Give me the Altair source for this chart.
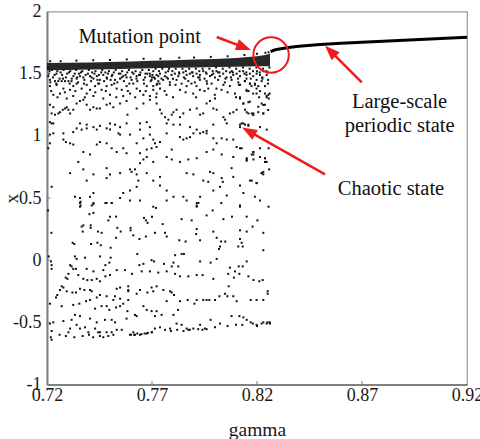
import math
import altair as alt
import pandas as pd

SERIF = "Liberation Serif"
RED = "#ee1c1c"

# ---------------- data ----------------
x_ticks = [0.72, 0.77, 0.82, 0.87, 0.92]
y_ticks = [-1, -0.5, 0, 0.5, 1, 1.5, 2]

# dense (almost solid) upper edge of the chaotic band
band_gamma = [0.7200, 0.7300, 0.7400, 0.7500, 0.7600, 0.7700, 0.7800, 0.7900, 0.8000, 0.8100, 0.8200, 0.8240, 0.8262]
band_top = [1.585, 1.588, 1.590, 1.594, 1.598, 1.603, 1.608, 1.613, 1.618, 1.627, 1.640, 1.650, 1.660]
band_bottom = [1.528, 1.530, 1.533, 1.536, 1.540, 1.543, 1.547, 1.550, 1.553, 1.556, 1.560, 1.560, 1.560]

# large-scale periodic branch
periodic_gamma = [0.8265, 0.8280, 0.8300, 0.8350, 0.8400, 0.8500, 0.8600, 0.8700, 0.8800, 0.8900, 0.9000, 0.9100, 0.9200]
periodic_x = [1.677, 1.688, 1.697, 1.710, 1.720, 1.734, 1.744, 1.752, 1.760, 1.768, 1.776, 1.784, 1.792]

# chaotic points (gamma, x)
chaos_edge = [
    (.7215, 1.600), (.7265, 1.600), (.7340, 1.605), (.7420, 1.608), (.7500, 1.610), (.7580, 1.615),
    (.7660, 1.620), (.7740, 1.620), (.7830, 1.628), (.7900, 1.630), (.7980, 1.635), (.8060, 1.640),
    (.8140, 1.650), (.8200, 1.660), (.8240, 1.668), (.8255, 1.672),
    (.7208, 1.50), (.7223, 1.53), (.7236, 1.49), (.7249, 1.52), (.7265, 1.51), (.7279, 1.53), (.7296, 1.50),
    (.7311, 1.52), (.7326, 1.48), (.7339, 1.53), (.7352, 1.50), (.7368, 1.52), (.7384, 1.49), (.7399, 1.53),
    (.7415, 1.51), (.7431, 1.52), (.7447, 1.49), (.7463, 1.53), (.7478, 1.51), (.7495, 1.52), (.7511, 1.49),
    (.7527, 1.53), (.7542, 1.50), (.7558, 1.52), (.7574, 1.49), (.7590, 1.53), (.7606, 1.51), (.7622, 1.52),
    (.7638, 1.49), (.7654, 1.53), (.7669, 1.50), (.7685, 1.53), (.7702, 1.49), (.7717, 1.54), (.7733, 1.52),
    (.7749, 1.54), (.7765, 1.51), (.7781, 1.54), (.7797, 1.52), (.7813, 1.54), (.7829, 1.51), (.7845, 1.54),
    (.7861, 1.52), (.7877, 1.54), (.7893, 1.51), (.7909, 1.54), (.7925, 1.52), (.7941, 1.54), (.7957, 1.51),
    (.7973, 1.54), (.7989, 1.52), (.8005, 1.55), (.8021, 1.51), (.8037, 1.54), (.8053, 1.52), (.8069, 1.55),
    (.8085, 1.51), (.8101, 1.54), (.8117, 1.52), (.8133, 1.55), (.8149, 1.51), (.8165, 1.54), (.8181, 1.52),
    (.8197, 1.55), (.8213, 1.51), (.8229, 1.54), (.8245, 1.52), (.8259, 1.55),
    (.7216, 1.43), (.7244, 1.42), (.7276, 1.46), (.7308, 1.42), (.7344, 1.47), (.7376, 1.42), (.7412, 1.47),
    (.7448, 1.42), (.7486, 1.46), (.7520, 1.42), (.7556, 1.47), (.7592, 1.42), (.7626, 1.46), (.7662, 1.42),
    (.7700, 1.47), (.7736, 1.42), (.7776, 1.46), (.7812, 1.41), (.7852, 1.47), (.7888, 1.42), (.7926, 1.47),
    (.7962, 1.42), (.8000, 1.47), (.8040, 1.41), (.8076, 1.47), (.8114, 1.41), (.8150, 1.46), (.8190, 1.42),
    (.8226, 1.46), (.8252, 1.42),
]

chaos_top = [
    (.7206, 1.48), (.7214, 1.45), (.7238, 1.44), (.7254, 1.44), (.7270, 1.44), (.7286, 1.44), (.7302, 1.44),
    (.7317, 1.44), (.7341, 1.46), (.7357, 1.48), (.7373, 1.47), (.7405, 1.48), (.7421, 1.46), (.7437, 1.48),
    (.7452, 1.45), (.7468, 1.49), (.7484, 1.47), (.7508, 1.48), (.7524, 1.45), (.7548, 1.46), (.7563, 1.48),
    (.7579, 1.47), (.7603, 1.45), (.7627, 1.48), (.7643, 1.49), (.7667, 1.47), (.7690, 1.48), (.7714, 1.46),
    (.7730, 1.48),
    (.7214, 1.40), (.7246, 1.41), (.7278, 1.38), (.7310, 1.37), (.7325, 1.40), (.7341, 1.42), (.7365, 1.38),
    (.7389, 1.41), (.7405, 1.37), (.7429, 1.40), (.7444, 1.42), (.7460, 1.37), (.7484, 1.40), (.7508, 1.41),
    (.7532, 1.38), (.7556, 1.37), (.7579, 1.40), (.7611, 1.42), (.7627, 1.38), (.7643, 1.36), (.7675, 1.40),
    (.7706, 1.37), (.7722, 1.41),
    (.7230, 1.33), (.7262, 1.34), (.7294, 1.30), (.7325, 1.32), (.7389, 1.34), (.7421, 1.32), (.7468, 1.30),
    (.7500, 1.33), (.7563, 1.32), (.7595, 1.34), (.7659, 1.33), (.7690, 1.32),
    (.7690, 1.50), (.7706, 1.52), (.7722, 1.49), (.7738, 1.50), (.7761, 1.48), (.7777, 1.52), (.7793, 1.49),
    (.7809, 1.50), (.7825, 1.48), (.7849, 1.51), (.7865, 1.49), (.7880, 1.50), (.7896, 1.48), (.7912, 1.50),
    (.7928, 1.49), (.7944, 1.52), (.7960, 1.50), (.7976, 1.48), (.7992, 1.50), (.8007, 1.52), (.8023, 1.48),
    (.8039, 1.50), (.8055, 1.47), (.8071, 1.51), (.8087, 1.49), (.8103, 1.50), (.8119, 1.48), (.8134, 1.52),
    (.8150, 1.49), (.8166, 1.50), (.8182, 1.48), (.8198, 1.50), (.8214, 1.49), (.8230, 1.52), (.8246, 1.49),
    (.7698, 1.45), (.7730, 1.44), (.7753, 1.45), (.7785, 1.43), (.7817, 1.45), (.7841, 1.42), (.7873, 1.44),
    (.7904, 1.43), (.7928, 1.45), (.7960, 1.44), (.7984, 1.42), (.8015, 1.45), (.8047, 1.43), (.8079, 1.45),
    (.8111, 1.43), (.8142, 1.44), (.8166, 1.42), (.8198, 1.45), (.8222, 1.44), (.8253, 1.45),
    (.7706, 1.40), (.7865, 1.40), (.8071, 1.40), (.8174, 1.40), (.8238, 1.40), (.7738, 1.38), (.7968, 1.38),
    (.7785, 1.41), (.7912, 1.40), (.8007, 1.38), (.8119, 1.41), (.8198, 1.38),
    (.7722, 1.34), (.7769, 1.33), (.7833, 1.37), (.7896, 1.34), (.7928, 1.37), (.7999, 1.33), (.8031, 1.37),
    (.8095, 1.34), (.8150, 1.37), (.8198, 1.34), (.8119, 1.30), (.8246, 1.32),
    (.8143, 1.44), (.8167, 1.42), (.8190, 1.41), (.8206, 1.40), (.8151, 1.36), (.8182, 1.34), (.8214, 1.36),
    (.8238, 1.34), (.8254, 1.33),
    (.7373, 1.29), (.7357, 1.28), (.7579, 1.28), (.7690, 1.29), (.7976, 1.28), (.8119, 1.31), (.8246, 1.31),
    (.8260, 1.34), (.8256, 1.30),
    (.7212, 1.52), (.7228, 1.47), (.7245, 1.50), (.7260, 1.46), (.7272, 1.49), (.7290, 1.47), (.7305, 1.51),
    (.7318, 1.46), (.7332, 1.50), (.7348, 1.43), (.7362, 1.51), (.7378, 1.45), (.7395, 1.50), (.7410, 1.44),
    (.7426, 1.50), (.7440, 1.45), (.7458, 1.51), (.7472, 1.44), (.7490, 1.50), (.7503, 1.45), (.7518, 1.51),
    (.7535, 1.43), (.7550, 1.50), (.7566, 1.44), (.7582, 1.51), (.7598, 1.47), (.7612, 1.50), (.7630, 1.44),
    (.7645, 1.51), (.7660, 1.45), (.7678, 1.50), (.7694, 1.44), (.7710, 1.47), (.7725, 1.42), (.7745, 1.46),
    (.7770, 1.47), (.7800, 1.46), (.7830, 1.50), (.7858, 1.46), (.7890, 1.51), (.7920, 1.47), (.7950, 1.46),
    (.7985, 1.49), (.8015, 1.51), (.8050, 1.46), (.8080, 1.52), (.8110, 1.46), (.8140, 1.50), (.8170, 1.46),
    (.8200, 1.52), (.8225, 1.47), (.8250, 1.51),
    (.7220, 1.36), (.7250, 1.31), (.7285, 1.35), (.7335, 1.36), (.7380, 1.31), (.7430, 1.35), (.7480, 1.36),
    (.7530, 1.31), (.7585, 1.36), (.7620, 1.31), (.7670, 1.36), (.7720, 1.31), (.7760, 1.36), (.7800, 1.31),
    (.7860, 1.35), (.7910, 1.31), (.7950, 1.36), (.8000, 1.30), (.8060, 1.35), (.8100, 1.31), (.8160, 1.36),
    (.8210, 1.31),
]

chaos_mid = [
    (.7214, 1.25), (.7230, 1.23), (.7222, 1.18), (.7238, 1.17), (.7254, 1.18), (.7262, 1.19), (.7275, 1.21),
    (.7286, 1.22), (.7294, 1.23), (.7302, 1.21), (.7310, 1.18), (.7325, 1.21), (.7341, 1.26), (.7389, 1.25),
    (.7405, 1.21), (.7421, 1.23), (.7437, 1.22), (.7452, 1.22), (.7484, 1.25), (.7500, 1.26), (.7516, 1.23),
    (.7548, 1.26), (.7583, 1.17), (.7627, 1.22), (.7659, 1.26), (.7722, 1.26), (.7738, 1.21), (.7746, 1.18),
    (.7762, 1.15), (.7778, 1.13), (.7794, 1.17), (.7802, 1.19), (.7817, 1.21), (.7833, 1.15), (.7849, 1.18),
    (.7881, 1.21), (.7913, 1.22), (.7929, 1.17), (.7944, 1.18), (.7960, 1.26), (.7992, 1.22), (.8008, 1.21),
    (.8040, 1.15), (.8048, 1.13), (.8071, 1.18), (.8087, 1.19), (.8103, 1.21), (.8135, 1.26), (.8143, 1.21),
    (.8159, 1.18), (.8183, 1.18), (.8230, 1.18),
    (.7214, 1.11), (.7222, 1.10), (.7230, 1.10), (.7357, 1.10), (.7389, 1.09), (.7421, 1.07), (.7452, 1.08),
    (.7500, 1.10), (.7524, 1.09), (.7548, 1.07), (.7579, 1.10), (.7643, 1.10), (.7675, 1.11), (.7690, 1.07),
    (.7770, 1.10), (.7802, 1.09), (.7833, 1.09), (.7881, 1.07), (.7913, 1.05), (.7944, 1.03), (.7960, 1.02),
    (.7992, 1.09), (.8056, 1.10), (.8119, 1.09), (.8135, 1.10), (.8159, 1.08), (.8214, 1.07), (.8246, 1.05),
    (.8255, 0.90),
    (.7214, 1.01), (.7230, 1.02), (.7206, 0.90), (.7214, 0.94), (.7278, 1.02), (.7290, 0.95), (.7325, 1.03),
    (.7341, 1.06), (.7365, 1.05), (.7389, 1.06), (.7437, 1.05), (.7484, 1.06), (.7500, 1.05), (.7540, 1.02),
    (.7548, 1.01), (.7595, 1.01), (.7643, 1.05), (.7659, 0.98), (.7690, 1.01), (.7706, 0.97), (.7714, 0.94),
    (.7738, 0.95), (.7770, 1.02), (.7794, 0.89), (.7833, 0.99), (.7849, 0.97), (.7865, 0.98), (.7881, 0.99),
    (.7897, 1.02), (.7929, 1.02), (.7960, 1.04), (.7992, 0.98), (.8008, 0.94), (.8032, 0.98), (.8056, 0.97),
    (.8087, 0.97), (.8103, 0.91), (.8127, 0.90), (.8183, 0.87), (.8119, 1.07),
    (.7278, 0.97), (.7310, 0.94), (.7325, 0.93), (.7373, 0.87), (.7405, 0.85), (.7437, 0.93), (.7452, 0.95),
    (.7484, 0.94), (.7508, 0.90), (.7532, 0.87), (.7563, 0.90), (.7579, 0.86), (.7627, 0.94), (.7643, 0.86),
    (.7675, 0.89), (.7698, 0.90), (.7722, 0.91), (.7770, 0.83), (.7794, 0.81), (.7833, 0.79), (.7873, 0.81),
    (.7913, 0.82), (.7960, 0.87), (.7992, 0.89), (.8032, 0.85), (.8087, 0.83), (.8151, 0.82), (.8183, 0.81),
    (.8214, 0.83), (.8238, 0.82), (.8246, 0.79),
    (.7310, 0.70), (.7349, 0.79), (.7373, 0.73), (.7389, 0.64), (.7421, 0.69), (.7484, 0.74), (.7500, 0.69),
    (.7548, 0.70), (.7595, 0.73), (.7603, 0.71), (.7619, 0.73), (.7627, 0.69), (.7635, 0.64), (.7643, 0.78),
    (.7659, 0.81), (.7675, 0.83), (.7706, 0.79), (.7738, 0.67), (.7770, 0.56), (.7675, 0.70), (.7706, 0.64),
    (.7738, 0.60), (.7627, 0.59), (.7563, 0.54), (.7595, 0.56), (.7484, 0.66), (.7421, 0.54), (.7405, 0.51),
    (.7357, 0.50), (.7333, 0.51),
    (.7865, 0.70), (.7897, 0.69), (.7944, 0.64), (.7976, 0.71), (.7992, 0.70), (.8032, 0.66), (.8037, 0.63),
    (.8087, 0.67), (.8119, 0.60), (.8079, 0.74), (.8135, 0.54), (.8167, 0.64), (.8198, 0.62), (.8222, 0.70),
    (.8230, 0.71), (.8238, 0.79), (.8258, 0.73), (.8183, 0.85), (.8151, 0.81), (.7222, 0.59), (.7929, 0.51),
    (.7992, 0.56), (.8056, 0.52), (.8190, 0.51), (.8214, 0.48), (.8024, 0.59), (.7968, 0.63),
    (.8135, 1.26), (.8159, 1.27), (.8222, 1.26), (.8238, 1.25), (.8151, 1.19), (.8175, 1.18), (.8206, 1.19),
    (.8230, 1.18), (.8127, 1.10), (.8143, 1.09), (.8159, 1.09), (.8119, 0.90), (.8151, 0.80), (.8182, 0.87),
    (.8175, 0.85), (.8214, 0.90), (.8238, 0.82), (.8238, 0.79), (.8222, 0.70), (.8230, 0.69), (.8175, 0.64),
    (.8198, 0.62),
    (.8166, 1.275), (.8182, 1.167), (.8206, 1.234), (.8230, 1.248), (.8253, 1.208),
]

chaos_low = [
    (.7357, 0.46), (.7357, 0.43), (.7421, 0.46), (.7484, 0.46), (.7508, 0.46), (.7548, 0.50), (.7595, 0.48),
    (.7643, 0.48), (.7706, 0.43), (.7770, 0.48), (.7802, 0.51), (.7849, 0.51), (.7913, 0.46), (.7913, 0.43),
    (.7865, 0.48), (.8119, 0.44), (.8255, 0.43),
    (.7360, 0.47), (.7360, 0.44), (.7413, 0.44), (.7421, 0.45), (.7478, 0.46), (.7508, 0.46), (.7719, 0.42),
    (.7913, 0.44), (.7921, 0.46), (.8030, 0.46), (.8119, 0.43),
    (.7205, 0.40), (.7402, 0.37), (.7421, 0.38), (.7500, 0.35), (.7492, 0.32), (.7529, 0.35), (.7662, 0.34),
    (.7671, 0.32), (.7700, 0.35), (.7365, 0.27), (.7373, 0.28), (.7408, 0.28), (.7408, 0.26), (.7370, 0.23),
    (.7443, 0.23), (.7460, 0.22), (.7535, 0.26), (.7551, 0.23), (.7598, 0.26), (.7598, 0.24), (.7679, 0.30),
    (.7751, 0.29), (.7841, 0.33), (.7889, 0.32), (.7960, 0.36), (.7989, 0.40), (.8040, 0.33), (.8081, 0.35),
    (.8151, 0.35), (.8202, 0.32), (.8179, 0.27), (.8119, 0.24), (.8151, 0.23), (.8230, 0.22), (.7913, 0.25),
    (.7910, 0.21), (.7992, 0.23), (.7929, 0.16), (.7830, 0.16), (.7860, 0.15), (.8008, 0.18), (.8029, 0.15),
    (.8049, 0.15), (.8119, 0.17), (.8127, 0.14), (.8111, 0.11), (.8132, 0.11), (.7221, 0.22), (.7611, 0.20),
    (.7640, 0.17), (.7671, 0.19), (.7714, 0.22), (.7762, 0.22), (.7770, 0.19), (.7529, 0.18), (.7410, 0.13),
    (.7440, 0.14), (.7456, 0.12), (.7322, 0.14), (.7330, 0.13), (.7503, 0.10), (.7630, 0.05), (.7841, 0.05),
    (.7852, 0.05), (.7810, 0.04), (.8019, 0.09), (.8024, 0.11), (.8151, -0.01), (.8230, 0.08), (.8132, -0.05),
    (.8113, -0.05), (.8095, -0.09), (.8071, -0.06), (.7929, -0.01), (.7979, -0.02), (.8008, 0.01),
    (.7698, 0.00), (.7710, -0.01), (.7659, -0.03), (.7640, -0.04), (.7757, -0.03), (.7794, -0.05),
    (.7802, -0.02), (.7825, -0.05), (.7208, 0.03), (.7219, -0.01), (.7222, -0.04), (.7222, -0.07),
    (.7333, 0.03), (.7341, 0.01), (.7381, 0.02), (.7452, 0.03), (.7503, 0.02), (.7497, -0.02), (.7478, -0.04),
    (.7310, -0.04), (.7317, -0.05), (.7325, -0.07), (.7338, -0.07), (.7389, -0.07), (.7421, -0.09),
    (.7468, -0.08), (.7571, -0.08), (.7605, -0.11), (.7651, -0.09), (.7690, -0.09), (.7730, -0.10),
    (.7770, -0.09), (.7810, -0.11), (.7833, -0.13), (.7873, -0.13), (.7913, -0.12), (.7941, -0.12),
    (.7992, -0.15), (.8063, -0.11), (.8090, -0.14), (.8116, -0.11), (.8159, -0.13), (.8183, -0.16),
    (.8211, -0.17), (.8227, -0.16), (.8251, -0.25), (.8251, -0.27), (.8230, -0.32), (.8198, -0.32),
    (.8170, -0.32), (.8103, -0.33), (.8087, -0.29), (.8059, -0.29), (.8065, -0.21), (.8048, -0.27),
    (.8021, -0.29), (.8000, -0.32), (.7973, -0.32), (.7960, -0.32), (.7944, -0.32), (.7913, -0.32),
    (.7902, -0.35), (.7870, -0.32), (.7833, -0.33), (.7824, -0.40), (.7802, -0.44), (.7770, -0.33),
    (.7786, -0.25), (.7794, -0.26), (.7805, -0.28), (.7754, -0.24), (.7722, -0.21), (.7706, -0.25),
    (.7698, -0.22), (.7678, -0.26), (.7643, -0.24), (.7627, -0.27), (.7587, -0.21), (.7587, -0.24),
    (.7587, -0.25), (.7587, -0.32), (.7548, -0.22), (.7532, -0.23), (.7524, -0.29), (.7548, -0.31),
    (.7516, -0.32), (.7484, -0.29), (.7452, -0.28), (.7437, -0.30), (.7405, -0.24), (.7413, -0.25),
    (.7378, -0.24), (.7357, -0.23), (.7338, -0.26), (.7321, -0.26), (.7294, -0.25), (.7278, -0.22),
    (.7270, -0.21), (.7262, -0.24), (.7249, -0.28), (.7243, -0.30), (.7289, -0.14), (.7297, -0.15),
    (.7302, -0.11), (.7349, -0.12), (.7373, -0.15), (.7392, -0.16), (.7413, -0.16), (.7437, -0.15),
    (.7452, -0.17), (.7478, -0.13), (.7500, -0.12), (.7532, -0.08),
    (.7214, -0.35), (.7270, -0.37), (.7325, -0.36), (.7354, -0.35), (.7386, -0.33), (.7405, -0.32),
    (.7429, -0.39), (.7460, -0.37), (.7484, -0.37), (.7497, -0.40), (.7529, -0.38), (.7548, -0.37),
    (.7563, -0.35), (.7583, -0.41), (.7619, -0.44), (.7659, -0.37), (.7675, -0.40), (.7698, -0.41),
    (.7722, -0.41), (.7746, -0.44), (.7714, -0.45), (.7627, -0.45), (.7579, -0.47), (.7524, -0.50),
    (.7508, -0.48), (.7476, -0.48), (.7437, -0.50), (.7405, -0.47), (.7357, -0.45), (.7333, -0.44),
    (.7317, -0.48), (.7278, -0.49), (.7341, -0.52), (.7310, -0.55), (.7302, -0.58), (.7357, -0.55),
    (.7381, -0.54), (.7429, -0.55), (.7397, -0.58), (.7452, -0.58), (.7484, -0.58), (.7508, -0.58),
    (.7532, -0.56), (.7556, -0.56), (.7595, -0.60), (.7619, -0.60), (.7643, -0.60), (.7675, -0.59),
    (.7698, -0.58), (.7714, -0.55), (.7738, -0.54), (.7762, -0.56), (.7786, -0.55), (.7817, -0.51),
    (.7841, -0.52), (.7865, -0.55), (.7873, -0.56), (.7897, -0.55), (.7929, -0.52), (.7952, -0.55),
    (.7979, -0.48), (.8024, -0.51), (.8079, -0.45), (.8116, -0.45), (.8135, -0.46), (.8151, -0.48),
    (.8170, -0.50), (.8198, -0.52), (.8222, -0.51), (.8246, -0.51), (.8262, -0.51), (.7214, -0.51),
    (.7230, -0.50), (.7222, -0.57), (.7452, -0.61), (.7468, -0.62), (.7492, -0.61), (.7516, -0.60),
    (.7611, -0.58), (.7444, -0.58),
    (.7218, -0.62), (.7222, -0.64), (.7600, -0.60), (.7615, -0.60), (.7630, -0.59), (.7650, -0.595),
    (.7665, -0.59), (.7680, -0.585), (.7700, -0.58), (.7260, -0.60), (.7290, -0.61), (.7330, -0.62),
    (.7370, -0.61), (.7400, -0.60), (.7420, -0.62), (.7790, -0.57), (.7820, -0.56), (.7850, -0.57),
    (.7880, -0.56), (.7920, -0.555), (.7940, -0.56), (.7960, -0.555), (.8000, -0.54), (.8060, -0.53),
    (.8100, -0.52), (.8130, -0.52), (.8180, -0.51), (.8200, -0.53), (.8230, -0.50), (.8250, -0.50),
    (.8260, -0.50),
]

# annotations
note_text = ["Mutation point", "Large-scale", "periodic state", "Chaotic state"]
note_gamma = [0.7641, 0.8879, 0.8879, 0.8838]
note_x = [1.744, 1.221, 1.033, 0.524]

circle_gamma = [0.8267]
circle_x = [1.650]

arrow_tail_gamma = [0.8008, 0.8699, 0.8524]
arrow_tail_x = [1.795, 1.430, 0.690]
arrow_tip_gamma = [0.8171, 0.8524, 0.8129]
arrow_tip_x = [1.690, 1.725, 1.067]

# ---------------- layout ----------------
W, H = 420, 373
GDOM = [0.72, 0.92]
XDOM = [-1.0, 2.0]
kx = W / (GDOM[1] - GDOM[0])
ky = H / (XDOM[1] - XDOM[0])

xs = alt.Scale(domain=GDOM, nice=False, zero=False)
ys = alt.Scale(domain=XDOM, nice=False, zero=False)

xaxis = alt.Axis(
    values=x_ticks, format=".2f", title="gamma", grid=False, ticks=False,
    labelFont=SERIF, labelFontSize=18, labelColor="#1a1a1a", labelFlush=False,
    labelOverlap=False, labelPadding=15.5, labelBaseline="alphabetic",
    domainColor="#808080", domainWidth=2,
    titleFont=SERIF, titleFontSize=19.5, titleFontWeight="normal", titleColor="#1a1a1a",
    titleY=50.5, titleBaseline="alphabetic",
)
yaxis = alt.Axis(
    values=y_ticks, title="x", grid=False, ticks=False,
    labelExpr="datum.value < 0 ? '-' + toString(-datum.value) : toString(datum.value)",
    labelFont=SERIF, labelFontSize=18, labelColor="#1a1a1a", labelFlush=False,
    labelOverlap=False, labelPadding=6, labelAlign="right", labelBaseline="middle",
    domainColor="#808080", domainWidth=2,
    titleFont=SERIF, titleFontSize=19.5, titleFontWeight="normal", titleColor="#1a1a1a",
    titleX=-36, titleY=H / 2, titleAngle=270, titleAlign="center", titleBaseline="middle",
)

X = alt.X("gamma:Q", scale=xs, axis=xaxis)
Y = alt.Y("x:Q", scale=ys, axis=yaxis)

chaos = pd.DataFrame(chaos_edge + chaos_top + chaos_mid + chaos_low, columns=["gamma", "x"])
band = pd.DataFrame({"gamma": band_gamma, "x": band_top, "bottom": band_bottom})
periodic = pd.DataFrame({"gamma": periodic_gamma, "x": periodic_x})

# inward tick marks
tick_rows = []
for t in x_ticks[1:-1]:
    tick_rows.append({"gamma": t, "x": XDOM[0], "g2": t, "x2": XDOM[0] + 3.5 / ky})
for t in y_ticks[1:-1]:
    tick_rows.append({"gamma": GDOM[0], "x": t, "g2": GDOM[0] + 3.5 / kx, "x2": t})
ticks_df = pd.DataFrame(tick_rows)

# arrows
shaft_rows, head_rows = [], []
for tg, tx, hg, hx in zip(arrow_tail_gamma, arrow_tail_x, arrow_tip_gamma, arrow_tip_x):
    dx = (hg - tg) * kx
    dy = -(hx - tx) * ky
    L = math.hypot(dx, dy)
    ang = math.degrees(math.atan2(dx, -dy)) % 360
    eg = hg - (dx / L * 8) / kx
    ex = hx + (dy / L * 8) / ky
    shaft_rows.append({"gamma": tg, "x": tx, "g2": eg, "x2": ex})
    head_rows.append({"gamma": hg, "x": hx, "angle": ang})
shaft_df = pd.DataFrame(shaft_rows)
head_df = pd.DataFrame(head_rows)

notes = pd.DataFrame({"gamma": note_gamma, "x": note_x, "label": note_text})
circ = pd.DataFrame({"gamma": circle_gamma, "x": circle_x})

band_layer = alt.Chart(band).mark_area(color="#111111", opacity=0.9).encode(
    x=X, y=alt.Y("x:Q", scale=ys, axis=yaxis), y2="bottom:Q")

dots = alt.Chart(chaos).mark_square(size=4, color="#111111", opacity=1).encode(x=X, y=Y)

line = alt.Chart(periodic).mark_line(color="#000000", strokeWidth=3).encode(x=X, y=Y)

tick_layer = alt.Chart(ticks_df).mark_rule(color="#808080", strokeWidth=1).encode(
    x=X, y=Y, x2="g2:Q", y2="x2:Q")

shafts = alt.Chart(shaft_df).mark_rule(color=RED, strokeWidth=2.5).encode(
    x=X, y=Y, x2="g2:Q", y2="x2:Q")

heads = alt.Chart(head_df).mark_point(
    shape="M0,0 L-0.38,1 L0.38,1 Z", filled=True, size=900, color=RED, opacity=1, strokeWidth=0
).encode(x=X, y=Y, angle=alt.Angle("angle:Q", scale=None))

circle = alt.Chart(circ).mark_point(
    shape="circle", filled=False, size=1257, color=RED, strokeWidth=2, opacity=1
).encode(x=X, y=Y)

texts = alt.Chart(notes).mark_text(
    font=SERIF, fontSize=20.5, color="#111111", align="center", baseline="alphabetic"
).encode(x=X, y=Y, text="label:N")

chart = alt.layer(
    band_layer, dots, line, tick_layer, shafts, heads, circle, texts
).properties(
    width=W, height=H,
    autosize=alt.AutoSizeParams(type="none"),
    padding={"left": 47, "top": 11.5, "right": 13, "bottom": 54.5},
).configure(font=SERIF).configure_view(stroke="#9a9a9a", strokeWidth=1.2)

chart.save("out.html", embed_options={"renderer": "svg", "actions": False})
